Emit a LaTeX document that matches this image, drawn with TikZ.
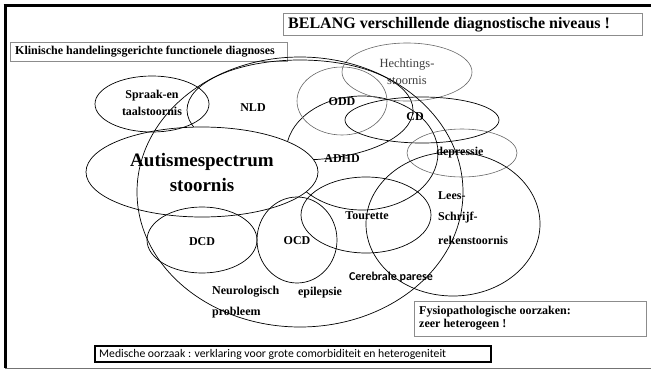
\documentclass[tikz,border=0pt]{standalone}
\usepackage{fontspec}
\setmainfont{Liberation Serif}
\newfontfamily\calib{Carlito}
\begin{document}
\begin{tikzpicture}[x=1pt,y=-1pt,
  ring/.style={draw=black,line width=0.7pt},
  faint/.style={draw=black!60,line width=0.6pt},
  frameedge/.style={draw=black,line width=3pt},
  boxedge/.style={draw=black!45,line width=0.8pt},
  lbl/.style={font=\bfseries\fontsize{12}{14}\selectfont,inner sep=0pt},
  lft/.style={lbl,anchor=west},
  ttl/.style={font=\bfseries\fontsize{16}{18}\selectfont,inner sep=0pt,anchor=west},
  big/.style={font=\bfseries\fontsize{19}{22}\selectfont,inner sep=0pt},
  thin/.style={font=\fontsize{12.5}{14}\selectfont,inner sep=0pt,text=black!75},
  sanslbl/.style={font=\calib\bfseries\fontsize{12}{14}\selectfont,inner sep=0pt},
  sansnote/.style={font=\calib\fontsize{11.7}{13}\selectfont,inner sep=0pt,anchor=west}]
\useasboundingbox (0,0) rectangle (651,370);

% slide frame
\draw[frameedge] (3.5,5.5) -- (651,5.5);
\draw[frameedge] (5,4) -- (5,368);
\draw[draw=black!55,line width=1pt] (5,368) -- (651,368);

% header boxes
\draw[boxedge] (283,13) rectangle (642,35);
\node[ttl] (title) at (288,24.5) {BELANG verschillende diagnostische niveaus !};
\draw[boxedge] (10,42) rectangle (287,61);
\node[lft] (klin) at (15,51.5) {Klinische handelingsgerichte functionele diagnoses};

% ellipses partly covered by the autism ellipse
\draw[ring] (300,110) ellipse [x radius=113pt, y radius=50pt];
\draw[ring] (362,153) ellipse [x radius=76pt, y radius=57pt];

% autism spectrum ellipse (opaque)
\draw[ring,fill=white] (202,172) ellipse [x radius=116pt, y radius=45pt];

% remaining ellipses
\draw[ring] (152,104) ellipse [x radius=57pt, y radius=28pt];
\draw[faint] (342,101) ellipse [x radius=45pt, y radius=34pt];
\draw[faint] (407,72) ellipse [x radius=65pt, y radius=29pt];
\draw[ring] (422,120) ellipse [x radius=77pt, y radius=23pt];
\draw[faint] (462,153) ellipse [x radius=55pt, y radius=24pt];
\draw[ring] (453,224) ellipse [x radius=87pt, y radius=72pt];
\draw[ring] (366,215) ellipse [x radius=65pt, y radius=38pt];
\draw[ring] (297,240) ellipse [x radius=40pt, y radius=43pt];
\draw[ring] (202,240) ellipse [x radius=55pt, y radius=33pt];
\draw[ring] (300,192) ellipse [x radius=163pt, y radius=135pt];

% labels
\node[lbl] (spraak) at (152,96) {Spraak-en};
\node[lbl] (taal) at (152,111) {taalstoornis};
\node[lbl] (nld) at (253,108) {NLD};
\node[big] (aut1) at (202,162) {Autismespectrum};
\node[big] (aut2) at (202,185) {stoornis};
\node[thin] (hecht1) at (407,65) {Hechtings-};
\node[thin] (hecht2) at (407,80) {stoornis};
\node[lbl] (odd) at (342,102) {ODD};
\node[lbl] (cd) at (415,117) {CD};
\node[lbl] (adhd) at (342,159) {ADHD};
\node[lbl] (depr) at (460,153) {depressie};
\node[lbl] (tour) at (367,216) {Tourette};
\node[lbl] (ocd) at (297,241) {OCD};
\node[lbl] (dcd) at (202,242) {DCD};
\node[lft] (lees) at (438,196) {Lees-};
\node[lft] (schrijf) at (438,218) {Schrijf-};
\node[lft] (reken) at (438,240) {rekenstoornis};
\node[sanslbl] (cp) at (391,277) {Cerebrale parese};
\node[lbl] (epi) at (320,293) {epilepsie};
\node[lft] (neuro) at (212,292) {Neurologisch};
\node[lft] (prob) at (212,313) {probleem};

% cause boxes
\draw[boxedge] (414,301) rectangle (646,336);
\node[lft] (fysio1) at (419,312) {Fysiopathologische oorzaken:};
\node[lft] (fysio2) at (419,325) {zeer heterogeen !};
\draw[draw=black,line width=1.1pt] (95,346) rectangle (491,362);
\node[sansnote] (med) at (99,354) {Medische oorzaak : verklaring voor grote comorbiditeit en heterogeniteit};
\end{tikzpicture}
\end{document}
